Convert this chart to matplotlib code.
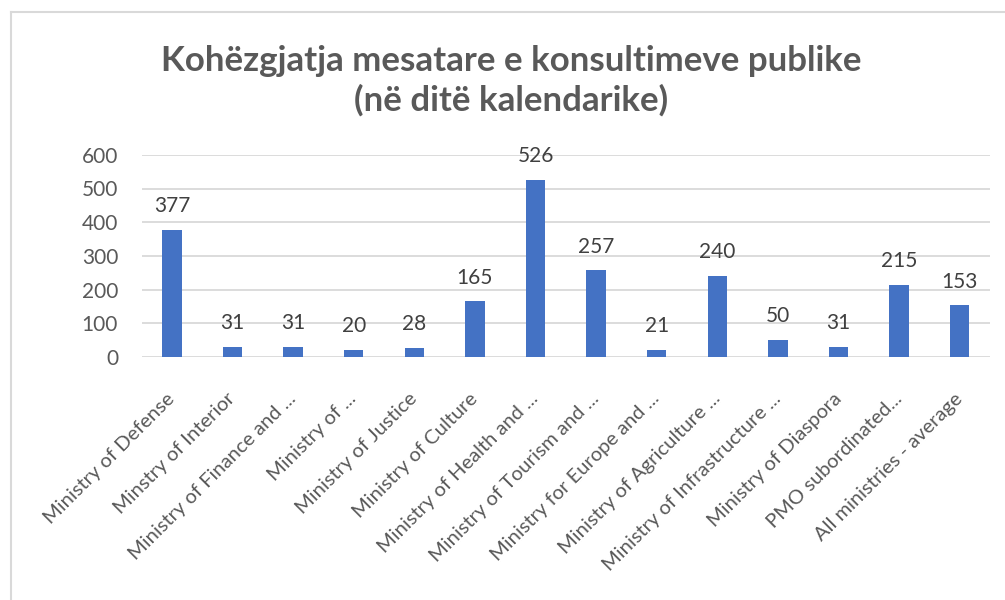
import matplotlib.pyplot as plt
import numpy as np
from matplotlib.lines import Line2D
from matplotlib.transforms import ScaledTranslation

# Données du graphique
categories = [
    "Ministry of Defense",
    "Minstry of Interior",
    "Ministry of Finance and ...",
    "Ministry of ...",
    "Ministry of Justice",
    "Ministry of Culture",
    "Ministry of Health and ...",
    "Ministry of Tourism and ...",
    "Ministry for Europe and ...",
    "Ministry of Agriculture ...",
    "Ministry of Infrastructure ...",
    "Ministry of Diaspora",
    "PMO subordinated...",
    "All ministries - average",
]
valeurs = [377, 31, 31, 20, 28, 165, 526, 257, 21, 240, 50, 31, 215, 153]
yticks = [0, 100, 200, 300, 400, 500, 600]

titre = "Kohëzgjatja mesatare e konsultimeve publike\n(në ditë kalendarike)"

plt.rcParams['font.family'] = ['Lato', 'DejaVu Sans']

fig = plt.figure(figsize=(10.05, 6), dpi=100)
ax = fig.add_axes([0.141, 0.405, 0.844, 0.337])

x = np.arange(len(categories))
ax.bar(x, valeurs, width=0.32, color='#4472C4', zorder=3)

for xi, v in zip(x, valeurs):
    ax.annotate(str(v), (xi, v), xytext=(0, 10), textcoords='offset points',
                ha='center', va='bottom', fontsize=15, color='#404040')

ax.set_xlim(-0.5, len(categories) - 0.5)
ax.set_ylim(0, 600)
ax.set_yticks(yticks)
ax.set_yticklabels([str(t) for t in yticks], fontsize=15, color='#595959')
ax.set_xticks(x)
ax.set_xticklabels(categories, rotation=45, ha='right', rotation_mode='anchor',
                   fontsize=14.5, color='#595959')
ax.tick_params(axis='both', length=0)
ax.tick_params(axis='y', pad=17)
ax.tick_params(axis='x', pad=20)
# petit décalage des étiquettes vers la gauche et le bas
decalage = ScaledTranslation(-6 / 100, -5 / 100, fig.dpi_scale_trans)
for lab in ax.get_xticklabels():
    lab.set_transform(lab.get_transform() + decalage)
ax.grid(axis='y', color='#D9D9D9', linewidth=1.3, zorder=0)
for s in ax.spines.values():
    s.set_visible(False)

fig.text(0.509, 0.925, titre, ha='center', va='top', fontsize=25.1, fontweight='bold',
         color='#595959', linespacing=1.25)

# cadre du graphique
fig.add_artist(Line2D([10.5 / 1005, 1], [1 - 11.5 / 600, 1 - 11.5 / 600],
                      color='#D9D9D9', linewidth=1.5, transform=fig.transFigure))
fig.add_artist(Line2D([10.5 / 1005, 10.5 / 1005], [0, 1 - 11.5 / 600],
                      color='#D9D9D9', linewidth=1.5, transform=fig.transFigure))

plt.savefig("out.png", dpi=100)
plt.close()
